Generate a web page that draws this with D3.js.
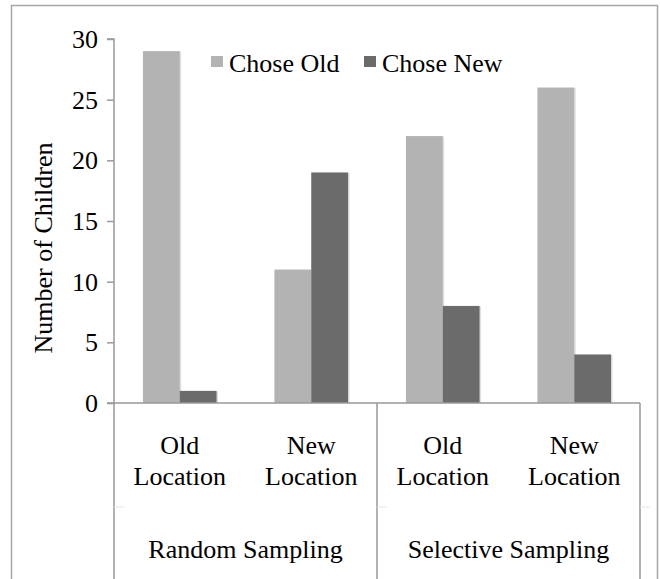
<!DOCTYPE html>
<html>
<head>
  <meta charset="UTF-8">
  <script src="https://d3js.org/d3.v7.min.js"></script>
  <style>
    svg text { font-family: "Liberation Serif", "Times New Roman", serif !important; }
  </style>
</head>
<body style="margin:0">
  <script>
    // data
    const groups = ["Random Sampling", "Selective Sampling"];
    const locations = ["Old Location", "New Location", "Old Location", "New Location"];
    const series = ["Chose Old", "Chose New"];
    const choseOld = [29, 11, 22, 26];
    const choseNew = [1, 19, 8, 4];
    const yTicks = [0, 5, 10, 15, 20, 25, 30];
    const colors = ["#b3b3b3", "#6b6b6b"];

    const fuente = "Times New Roman";
    const tam = 26;
    const ancho = 660, alto = 579;
    const margen = { superior: 39, derecho: 20, inferior: 176, izquierdo: 114 };
    const xMax = 640;

    const svg = d3.select("body").append("svg")
      .attr("width", ancho)
      .attr("height", alto)
      .attr("font-family", fuente)
      .attr("font-size", tam);

    // outer frame
    svg.append("rect")
      .attr("x", 11.5).attr("y", 5.5)
      .attr("width", 646).attr("height", 600)
      .attr("fill", "none").attr("stroke", "#a6a6a6").attr("stroke-width", 1.5);

    const cats = d3.range(locations.length);
    const x0 = d3.scaleBand().domain(cats).range([margen.izquierdo, xMax]).padding(0);
    const bw = x0.bandwidth();
    const x1 = d3.scaleBand().domain(series).range([bw * 0.22, bw * 0.78]).padding(0);
    const y = d3.scaleLinear().domain([0, 30]).range([alto - margen.inferior, margen.superior]);

    const filas = cats.map(i => ({ i, vals: [choseOld[i], choseNew[i]] }));

    // bars, with a faint shadow strip behind each
    const grp = svg.append("g").selectAll("g").data(filas).join("g")
      .attr("transform", d => `translate(${x0(d.i)},0)`);
    const barras = d => d.vals.map((v, k) => ({ s: series[k], v, k }));
    grp.selectAll("rect.sombra")
      .data(barras)
      .join("rect")
      .attr("class", "sombra")
      .attr("x", d => x1(d.s) + 1.5)
      .attr("y", d => y(d.v) + 0.5)
      .attr("width", x1.bandwidth())
      .attr("height", d => y(0) - y(d.v) - 0.5)
      .attr("fill", "#000")
      .attr("fill-opacity", 0.12);
    grp.selectAll("rect.barra")
      .data(barras)
      .join("rect")
      .attr("class", "barra")
      .attr("x", d => x1(d.s))
      .attr("y", d => y(d.v))
      .attr("width", x1.bandwidth())
      .attr("height", d => y(0) - y(d.v))
      .attr("fill", d => colors[d.k]);

    // y axis
    const ejeY = d3.axisLeft(y).tickValues(yTicks).tickSize(7).tickPadding(9);
    const gy = svg.append("g")
      .attr("transform", `translate(${margen.izquierdo},0)`)
      .call(ejeY)
      .attr("font-family", fuente)
      .attr("font-size", tam);
    gy.select(".domain").attr("stroke", "#999").attr("stroke-width", 1.5).attr("d", `M-7,${y(30)}H0V${y(0)}`);
    gy.selectAll(".tick line").attr("stroke", "#999").attr("stroke-width", 1.5);
    gy.selectAll(".tick text").attr("dy", "0.33em");

    // x axis baseline
    const ejeX = d3.axisBottom(x0).tickSize(0).tickFormat("");
    const gx = svg.append("g")
      .attr("transform", `translate(0,${y(0)})`)
      .call(ejeX);
    gx.selectAll(".tick").remove();
    gx.select(".domain").attr("stroke", "#999").attr("stroke-width", 1.5)
      .attr("d", `M${margen.izquierdo - 7},0H${xMax}`);

    // group dividers
    const divisores = [margen.izquierdo, x0(2), xMax];
    svg.append("g").selectAll("line").data(divisores).join("line")
      .attr("x1", d => d).attr("x2", d => d)
      .attr("y1", y(0)).attr("y2", alto)
      .attr("stroke", "#999").attr("stroke-width", 1.5);

    // faint row separators
    svg.append("g").selectAll("line").data(divisores).join("line")
      .attr("x1", d => d).attr("x2", d => d + 10)
      .attr("y1", 507).attr("y2", 507)
      .attr("stroke", "#e6e6e6").attr("stroke-width", 1);

    // category labels, two lines each
    const lineas = [];
    cats.forEach(i => locations[i].split(" ").forEach((w, j) => lineas.push({ i, w, j })));
    svg.append("g").selectAll("text").data(lineas).join("text")
      .attr("x", d => x0(d.i) + bw / 2)
      .attr("y", d => 454 + d.j * 31)
      .attr("text-anchor", "middle")
      .text(d => d.w);

    // group labels
    svg.append("g").selectAll("text").data(groups).join("text")
      .attr("x", (d, i) => (x0(i * 2) + x0(i * 2 + 1) + bw) / 2)
      .attr("y", 558)
      .attr("text-anchor", "middle")
      .text(d => d);

    // y title
    svg.append("text")
      .attr("transform", `translate(52,${(y(0) + y(30)) / 2 + 27}) rotate(-90)`)
      .attr("text-anchor", "middle")
      .text("Number of Children");

    // legend
    const leyX = [211, 364];
    const ley = svg.append("g").selectAll("g").data(series).join("g")
      .attr("transform", (d, i) => `translate(${leyX[i]},56)`);
    ley.append("rect")
      .attr("width", 12).attr("height", 11)
      .attr("fill", (d, i) => colors[i]);
    ley.append("text")
      .attr("x", 18).attr("y", 16)
      .text(d => d);

    // font on every text element directly
    svg.selectAll("text")
      .attr("font-family", fuente)
      .attr("font-size", tam)
      .attr("fill", "#000")
      .style("font-family", "'Liberation Serif', 'Times New Roman', serif", "important");
  </script>
</body>
</html>
